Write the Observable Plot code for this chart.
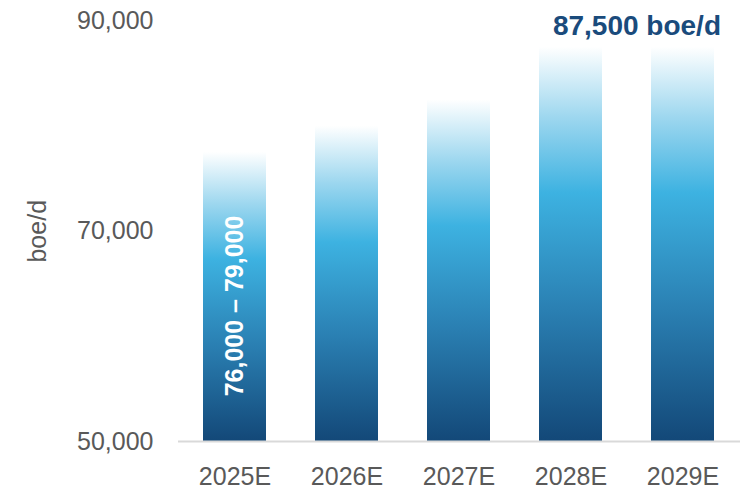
<!DOCTYPE html>
<html>
<head>
<meta charset="utf-8">
<script src="https://cdn.jsdelivr.net/npm/d3@7"></script>
<script src="https://cdn.jsdelivr.net/npm/@observablehq/plot@0.6"></script>
<style>
  html, body { margin: 0; padding: 0; background: #fff; }
  svg { display: block; }
</style>
</head>
<body>
<div id="chart"></div>
<script>
const years = ["2025E", "2026E", "2027E", "2028E", "2029E"];
const values = [77500, 80000, 82500, 87500, 87500];
const yTicks = [50000, 70000, 90000];
const yLabel = "boe/d";
const rangeLabel = "76,000 – 79,000";
const rangeYear = "2025E";
const annotation = "87,500 boe/d";
const annotationYear = "2029E";

const data = years.map((year, i) => ({year, value: values[i]}));
const base = yTicks[0];
const rangeValue = values[years.indexOf(rangeYear)];

const chart = Plot.plot({
  width: 752,
  height: 489,
  marginLeft: 178,
  marginRight: 12,
  marginTop: 20.5,
  marginBottom: 48,
  style: {
    fontFamily: "'Liberation Sans', Arial, sans-serif",
    fontSize: "25px",
    color: "#595959",
    background: "#fff",
    overflow: "visible"
  },
  x: {domain: years, paddingInner: 0.437, paddingOuter: 0.2185},
  y: {domain: [yTicks[0], yTicks[yTicks.length - 1]]},
  marks: [
    Plot.barY(data, {x: "year", y1: base, y2: "value", fill: "url(#barGrad)"}),
    Plot.ruleY([base], {stroke: "#d9d9d9", strokeWidth: 2}),
    Plot.axisX({tickSize: 0, tickPadding: 26, label: null, fill: "#595959"}),
    Plot.axisY({
      ticks: yTicks, tickSize: 0, tickPadding: 25, tickFormat: d3.format(","),
      label: yLabel, labelAnchor: "center", labelArrow: "none", labelOffset: 150,
      fill: "#595959"
    }),
    Plot.text([rangeLabel], {
      x: () => rangeYear, y: () => (base + rangeValue) / 2, text: d => d,
      rotate: -90, fill: "#ffffff", fontWeight: "bold", fontSize: 25, dy: 9
    }),
    Plot.text([annotation], {
      x: () => annotationYear, frameAnchor: "top", lineAnchor: "top", text: d => d,
      textAnchor: "end", dx: 38, dy: -5.5,
      fill: "#1a4b7c", fontWeight: "bold", fontSize: 28
    })
  ]
});

const grad = d3.select(chart).insert("defs", ":first-child")
  .append("linearGradient")
  .attr("id", "barGrad")
  .attr("x1", 0).attr("y1", 1).attr("x2", 0).attr("y2", 0);
[[0, "#134878"], [0.33, "#2a7fb2"], [0.63, "#3db2e1"], [0.82, "#9dd7ef"], [1, "#ffffff"]]
  .forEach(([o, c]) => grad.append("stop").attr("offset", o).attr("stop-color", c));

document.getElementById("chart").appendChild(chart);
</script>
</body>
</html>
